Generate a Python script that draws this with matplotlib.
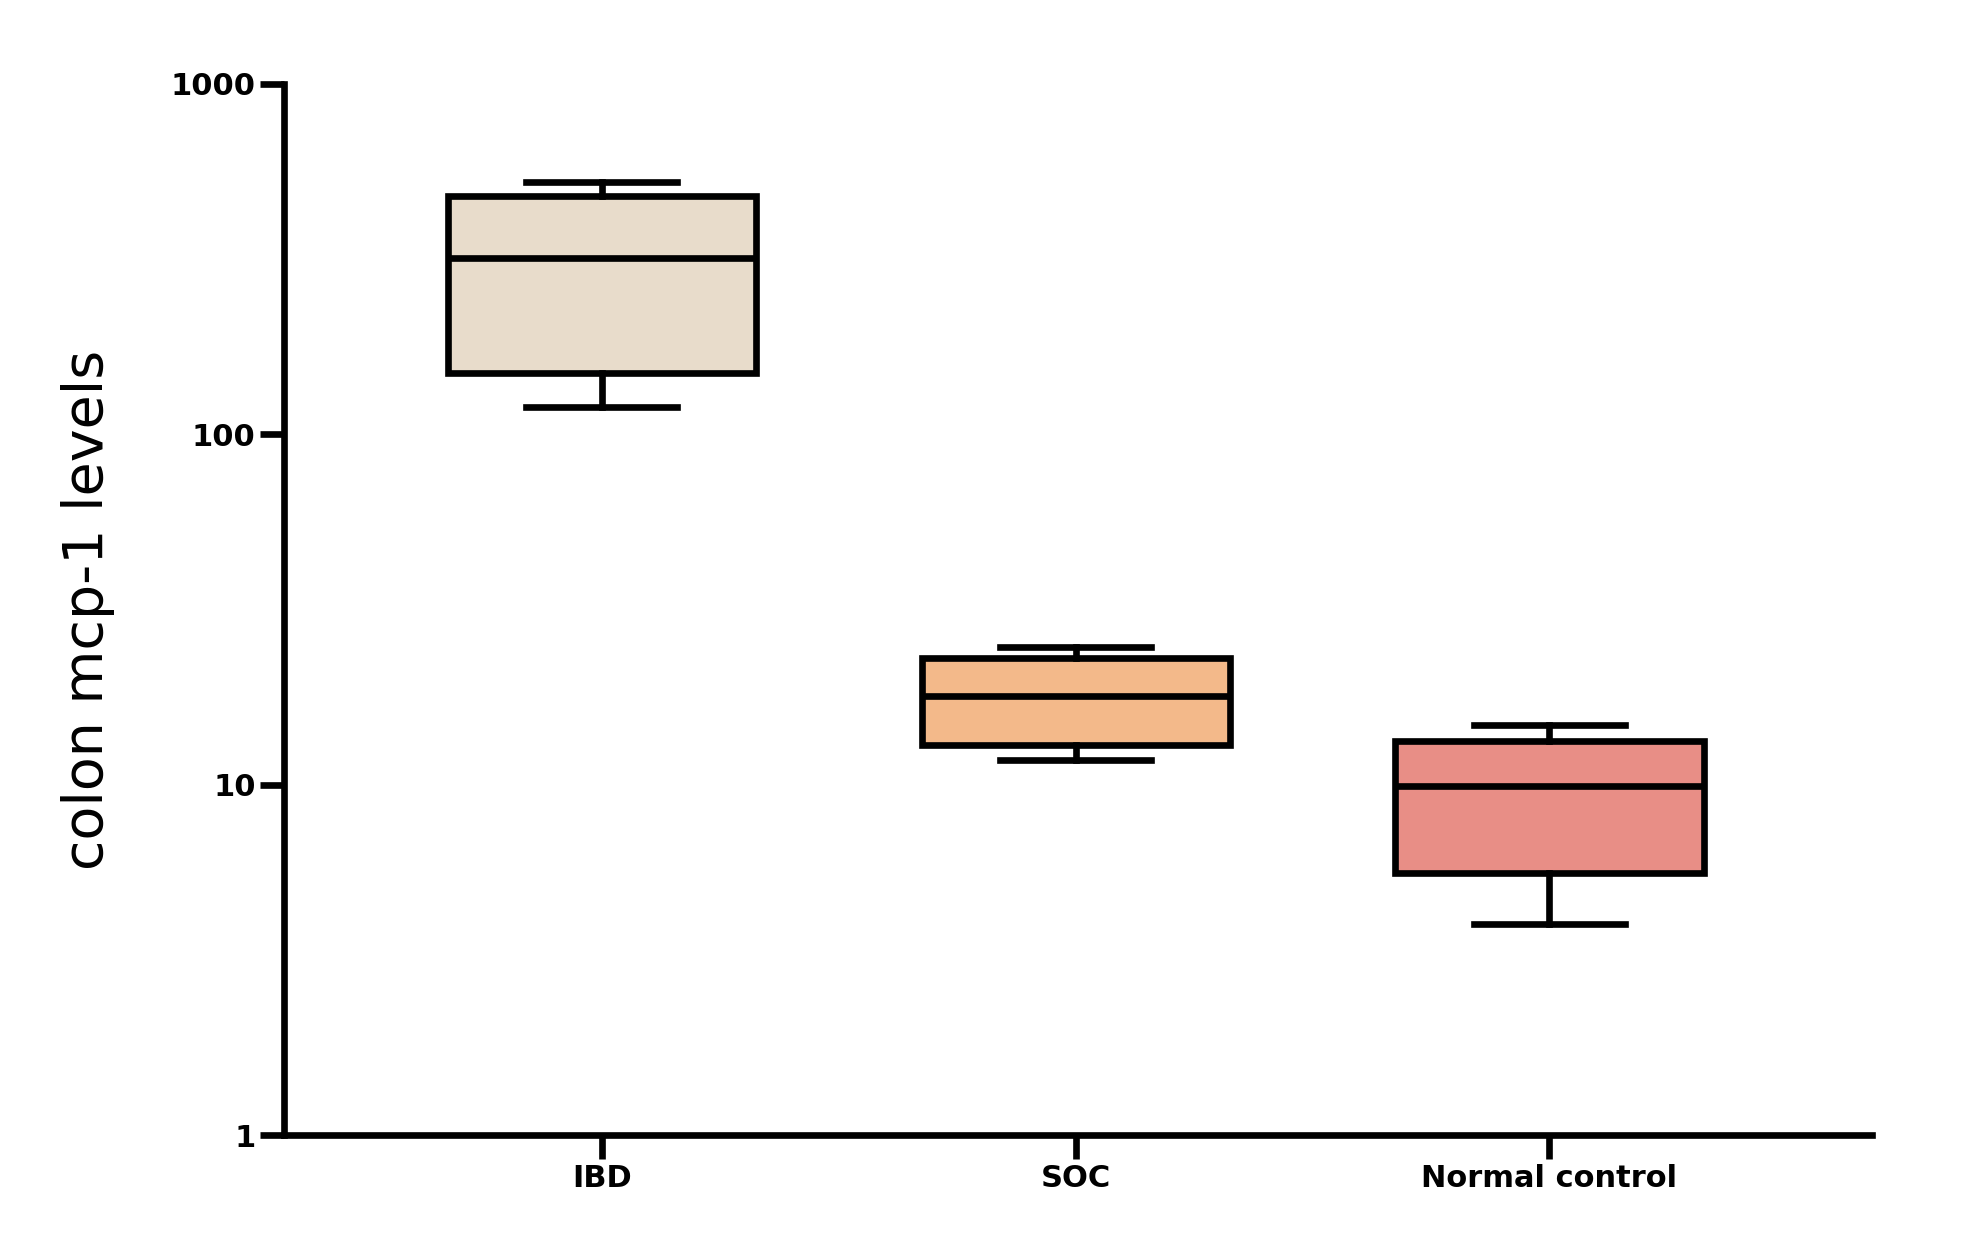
import matplotlib
matplotlib.use("Agg")
import matplotlib.pyplot as plt
from matplotlib.ticker import FixedLocator, NullLocator

categories = ["IBD", "SOC", "Normal control"]
whislo = [120, 11.8, 4.0]
q1 = [150, 13.0, 5.6]
med = [319, 17.9, 9.9]
q3 = [478, 23.0, 13.3]
whishi = [525, 24.8, 14.8]
colors = ["#E8DCCB", "#F3B98A", "#E88E86"]

fig = plt.figure(figsize=(19.87, 12.53), dpi=100)
ax = fig.add_axes([0.143, 0.094, 0.799, 0.839])
stats = [dict(label=c, whislo=a, q1=b, med=m, q3=d, whishi=e)
         for c, a, b, m, d, e in zip(categories, whislo, q1, med, q3, whishi)]
lw = 4.8
bp = ax.bxp(stats, positions=[1, 2, 3], widths=0.65, capwidths=0.32,
            showfliers=False, patch_artist=True,
            boxprops=dict(linewidth=lw, edgecolor="black"),
            medianprops=dict(linewidth=lw, color="black"),
            whiskerprops=dict(linewidth=lw, color="black"),
            capprops=dict(linewidth=lw, color="black"))
for p, c in zip(bp["boxes"], colors):
    p.set_facecolor(c)

ax.set_yscale("log")
ax.set_ylim(1, 1000)
ax.set_xlim(0.33, 3.68)
ax.yaxis.set_major_locator(FixedLocator([1, 10, 100, 1000]))
ax.yaxis.set_minor_locator(NullLocator())
ax.set_yticklabels(["1", "10", "100", "1000"])
ax.set_xticks([1, 2, 3])
ax.set_xticklabels(categories)
for s in ["top", "right"]:
    ax.spines[s].set_visible(False)
for s in ["left", "bottom"]:
    ax.spines[s].set_linewidth(lw)
ax.tick_params(axis="both", width=lw, length=17, direction="out")
for t in ax.get_xticklabels() + ax.get_yticklabels():
    t.set_fontweight("bold")
    t.set_fontsize(22)
ax.set_ylabel("colon mcp-1 levels", fontsize=40, labelpad=40)
fig.savefig("out.png", dpi=100)
